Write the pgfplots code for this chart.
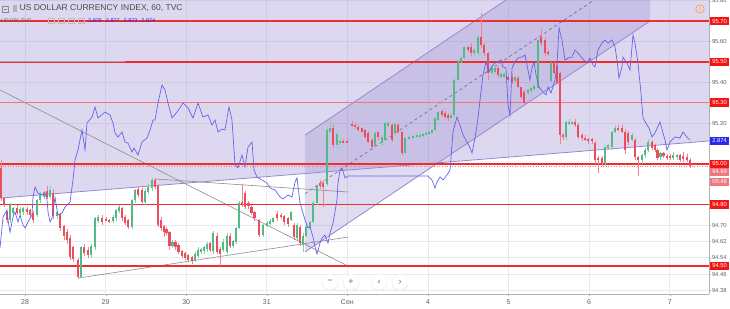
\documentclass[border=0pt]{standalone}
\usepackage{fontspec}
\setmainfont{Liberation Sans}
\usepackage{pgfplots}
\usepackage{pgfplotstable}
\pgfplotsset{compat=1.18}
\definecolor{upc}{RGB}{83,185,135}
\definecolor{dnc}{RGB}{235,77,92}
\definecolor{shade}{RGB}{150,135,205}
\definecolor{chline}{RGB}{150,135,212}
\definecolor{levred}{RGB}{240,45,45}
\definecolor{bluel}{RGB}{100,100,235}
\definecolor{gridc}{RGB}{230,234,241}
\definecolor{txt}{RGB}{95,95,95}
\definecolor{lblred}{RGB}{245,20,20}
\definecolor{lblpink}{RGB}{238,120,128}
\definecolor{lblblue}{RGB}{40,40,240}

% down candles: hour, body low, body high, wick low, wick high
\pgfplotstableread{
h lo hi wl wh
-7.15 94.832 94.979 94.82 95.02
-6.25 94.798 94.832 94.79 94.84
-5.36 94.725 94.764 94.71 94.77
-2.38 94.759 94.783 94.75 94.80
0.60 94.764 94.779 94.75 94.79
1.49 94.749 94.774 94.74 94.78
2.38 94.725 94.759 94.71 94.77
6.55 94.837 94.867 94.83 94.89
8.34 94.744 94.857 94.73 94.88
10.42 94.685 94.754 94.67 94.76
11.61 94.646 94.695 94.63 94.70
12.51 94.627 94.666 94.61 94.68
13.40 94.543 94.636 94.53 94.65
14.29 94.534 94.592 94.52 94.60
15.78 94.445 94.529 94.435 94.54
17.57 94.563 94.592 94.55 94.61
18.76 94.553 94.578 94.54 94.59
22.93 94.715 94.734 94.70 94.75
24.12 94.725 94.730 94.72 94.74
25.02 94.715 94.725 94.71 94.73
28.89 94.734 94.783 94.72 94.79
29.78 94.710 94.739 94.70 94.75
30.67 94.690 94.725 94.68 94.73
33.65 94.847 94.877 94.84 94.89
34.84 94.813 94.872 94.80 94.88
38.71 94.886 94.921 94.88 94.93
39.61 94.700 94.891 94.69 94.90
40.50 94.685 94.725 94.67 94.74
41.39 94.666 94.695 94.64 94.70
42.10 94.661 94.680 94.65 94.69
43.00 94.597 94.666 94.58 94.67
44.80 94.592 94.617 94.58 94.63
45.70 94.568 94.602 94.56 94.61
46.75 94.548 94.573 94.54 94.58
47.65 94.538 94.563 94.53 94.57
48.54 94.529 94.553 94.52 94.56
49.73 94.524 94.543 94.51 94.55
55.09 94.578 94.612 94.57 94.62
57.18 94.568 94.646 94.56 94.66
58.07 94.558 94.582 94.50 94.59
61.05 94.597 94.646 94.59 94.66
64.60 94.803 94.813 94.79 94.90
65.60 94.788 94.857 94.78 94.87
66.50 94.793 94.808 94.78 94.82
67.40 94.759 94.788 94.75 94.80
68.30 94.734 94.764 94.72 94.77
69.69 94.651 94.725 94.64 94.73
75.05 94.734 94.754 94.72 94.77
76.24 94.739 94.749 94.73 94.76
77.13 94.715 94.744 94.70 94.75
78.32 94.705 94.734 94.69 94.74
80.11 94.641 94.700 94.63 94.71
81.90 94.612 94.690 94.60 94.70
87.85 94.891 94.906 94.88 94.92
88.74 94.886 94.906 94.79 94.92
91.72 95.092 95.176 95.08 95.19
94.70 95.107 95.112 95.10 95.12
95.89 95.102 95.112 95.10 95.12
97.38 95.185 95.195 95.18 95.21
98.27 95.180 95.190 95.17 95.20
99.17 95.166 95.180 95.16 95.19
100.36 95.156 95.176 95.15 95.18
101.25 95.131 95.166 95.12 95.17
102.15 95.107 95.151 95.10 95.16
103.34 95.082 95.117 95.07 95.13
105.12 95.131 95.156 95.12 95.16
109.29 95.117 95.190 95.11 95.20
111.08 95.156 95.190 95.15 95.20
112.27 95.053 95.156 95.04 95.16
124.18 95.239 95.259 95.23 95.27
125.08 95.230 95.249 95.22 95.26
125.97 95.225 95.239 95.21 95.25
131.93 95.558 95.573 95.55 95.58
132.82 95.543 95.573 95.53 95.59
135.80 95.582 95.622 95.57 95.74
136.69 95.543 95.582 95.53 95.59
137.88 95.445 95.543 95.41 95.55
140.86 95.435 95.470 95.42 95.48
143.84 95.411 95.426 95.40 95.44
145.03 95.401 95.426 95.39 95.44
146.82 95.377 95.421 95.37 95.43
147.71 95.328 95.377 95.32 95.38
148.60 95.298 95.352 95.29 95.36
153.66 95.592 95.622 95.58 95.66
154.86 95.543 95.607 95.53 95.62
155.75 95.538 95.548 95.53 95.56
157.54 95.445 95.494 95.44 95.50
158.43 95.396 95.479 95.39 95.49
159.32 95.141 95.445 95.10 95.45
160.22 95.131 95.141 95.12 95.15
163.79 95.190 95.205 95.18 95.22
164.68 95.131 95.190 95.12 95.20
165.87 95.127 95.141 95.11 95.15
166.77 95.117 95.127 95.11 95.14
167.66 95.112 95.122 95.10 95.13
168.85 95.112 95.122 95.10 95.13
169.75 95.019 95.102 95.00 95.11
170.64 95.019 95.028 94.955 95.04
171.83 95.004 95.028 94.99 95.04
176.60 95.166 95.176 95.16 95.19
177.79 95.156 95.176 95.15 95.19
178.68 95.068 95.156 95.05 95.17
179.57 95.107 95.151 95.09 95.16
181.66 95.033 95.117 95.02 95.13
182.55 95.019 95.033 94.94 95.04
186.72 95.078 95.107 95.07 95.12
187.61 95.068 95.092 95.06 95.10
188.40 95.028 95.068 95.02 95.08
190.20 95.038 95.053 95.03 95.06
191.19 95.033 95.038 95.02 95.05
192.08 95.028 95.038 95.02 95.05
195.06 95.019 95.043 95.01 95.05
195.95 95.024 95.038 95.01 95.06
197.14 95.019 95.033 95.01 95.05
198.04 94.989 95.019 94.98 95.03
}\dntab

% up candles
\pgfplotstableread{
h lo hi wl wh
-4.47 94.725 94.798 94.71 94.81
-3.57 94.759 94.783 94.75 94.79
-1.49 94.759 94.779 94.75 94.79
-0.60 94.764 94.783 94.75 94.79
3.57 94.749 94.823 94.74 94.83
4.47 94.823 94.847 94.81 94.86
5.66 94.837 94.862 94.83 94.87
7.45 94.837 94.872 94.83 94.89
9.53 94.744 94.764 94.73 94.77
16.68 94.445 94.592 94.44 94.60
19.65 94.553 94.597 94.54 94.61
20.85 94.592 94.734 94.58 94.74
21.74 94.720 94.739 94.71 94.75
26.21 94.720 94.739 94.71 94.75
27.10 94.734 94.774 94.72 94.78
27.99 94.769 94.788 94.76 94.80
31.86 94.690 94.823 94.68 94.83
32.76 94.823 94.872 94.81 94.88
35.74 94.813 94.867 94.80 94.88
36.63 94.862 94.886 94.85 94.90
37.82 94.881 94.921 94.87 94.93
43.90 94.597 94.617 94.59 94.63
50.63 94.529 94.558 94.52 94.57
51.52 94.548 94.578 94.54 94.59
52.41 94.568 94.582 94.56 94.59
53.31 94.573 94.592 94.56 94.60
54.20 94.582 94.607 94.57 94.62
55.99 94.573 94.661 94.56 94.67
58.96 94.578 94.617 94.57 94.63
60.16 94.568 94.646 94.56 94.66
61.94 94.597 94.622 94.59 94.63
62.84 94.617 94.685 94.61 94.69
63.73 94.685 94.808 94.68 94.82
70.88 94.651 94.700 94.64 94.71
72.07 94.695 94.710 94.69 94.72
72.96 94.705 94.720 94.70 94.73
73.85 94.715 94.734 94.71 94.74
79.21 94.725 94.764 94.72 94.77
81.00 94.636 94.700 94.63 94.71
82.79 94.602 94.646 94.57 94.66
83.68 94.646 94.690 94.64 94.70
84.87 94.685 94.715 94.68 94.72
85.77 94.715 94.808 94.71 94.82
86.96 94.808 94.891 94.80 94.90
89.94 94.901 95.166 94.89 95.18
90.83 95.156 95.176 95.15 95.22
92.91 95.092 95.146 95.08 95.16
93.81 95.102 95.112 95.09 95.12
104.23 95.087 95.151 95.08 95.16
106.31 95.102 95.131 95.09 95.14
107.21 95.117 95.200 95.11 95.21
108.10 95.185 95.200 95.18 95.21
110.19 95.151 95.195 95.14 95.20
113.16 95.053 95.127 95.05 95.13
114.36 95.122 95.131 95.12 95.14
115.55 95.127 95.136 95.12 95.14
116.74 95.131 95.141 95.13 95.15
117.63 95.131 95.141 95.13 95.15
118.52 95.136 95.146 95.13 95.15
119.42 95.141 95.151 95.14 95.16
120.31 95.146 95.156 95.14 95.16
121.20 95.151 95.166 95.15 95.17
122.10 95.166 95.225 95.16 95.23
122.99 95.215 95.254 95.21 95.26
126.86 95.225 95.239 95.22 95.25
127.76 95.239 95.411 95.23 95.42
128.95 95.411 95.499 95.40 95.51
129.84 95.499 95.519 95.49 95.53
130.73 95.519 95.573 95.51 95.58
133.71 95.543 95.558 95.53 95.57
134.90 95.543 95.622 95.53 95.63
139.07 95.445 95.470 95.44 95.48
139.97 95.450 95.470 95.44 95.48
141.75 95.426 95.440 95.42 95.45
142.65 95.426 95.440 95.42 95.45
145.92 95.406 95.426 95.40 95.43
149.79 95.347 95.362 95.34 95.37
150.69 95.357 95.372 95.35 95.38
151.58 95.367 95.381 95.36 95.39
152.77 95.372 95.607 95.36 95.61
156.64 95.406 95.494 95.40 95.50
161.11 95.131 95.205 95.12 95.21
162.00 95.195 95.205 95.19 95.22
162.90 95.195 95.205 95.19 95.21
172.72 95.004 95.082 94.99 95.09
173.62 95.078 95.092 95.07 95.10
174.81 95.082 95.156 95.07 95.16
175.70 95.156 95.176 95.15 95.19
180.76 95.117 95.141 95.11 95.15
183.74 95.019 95.043 95.00 95.05
184.64 95.043 95.068 95.03 95.08
185.53 95.068 95.107 95.06 95.12
189.30 95.033 95.053 95.02 95.06
192.97 95.028 95.043 95.02 95.06
194.17 95.033 95.043 95.02 95.05
}\uptab

% US10Y yield
\pgfplotstableread{
h v
-7.45 2.8312
-6.55 2.8436
-5.36 2.8464
-5.06 2.8424
-4.47 2.8376
-3.57 2.8436
-2.98 2.8456
-2.08 2.8416
-1.49 2.8444
-0.60 2.8404
0.00 2.8392
0.89 2.8416
2.08 2.8444
2.38 2.8516
2.98 2.8556
3.87 2.8532
5.06 2.8524
5.96 2.8532
6.55 2.8504
6.85 2.8456
7.45 2.8416
8.04 2.8432
8.93 2.8516
9.53 2.8464
9.83 2.8444
11.02 2.8452
11.91 2.8476
13.40 2.8496
14.29 2.8584
14.89 2.8664
15.78 2.8704
16.97 2.8784
17.87 2.8704
18.46 2.8812
19.95 2.8836
20.85 2.8876
21.74 2.8832
23.82 2.8856
25.31 2.8844
26.21 2.8812
26.80 2.8772
27.70 2.8756
28.89 2.8776
29.78 2.8736
30.67 2.8732
31.86 2.8696
32.46 2.8712
33.65 2.8684
34.84 2.8736
36.33 2.8752
37.23 2.8784
38.12 2.8824
38.71 2.8824
39.61 2.8892
40.80 2.8964
41.69 2.8944
42.59 2.8892
43.78 2.8832
45.27 2.8856
47.05 2.8892
48.54 2.8872
50.03 2.8832
51.52 2.8892
53.01 2.8836
54.50 2.8844
55.69 2.8804
56.58 2.8824
57.48 2.8776
58.67 2.8788
59.56 2.8784
60.75 2.8876
61.64 2.8824
62.54 2.8644
63.43 2.8632
64.62 2.8684
65.52 2.8636
66.41 2.8716
67.60 2.8736
68.20 2.8624
69.09 2.8596
70.58 2.8584
72.07 2.8572
72.96 2.8552
74.45 2.8544
75.94 2.8516
76.83 2.8508
78.32 2.8524
79.51 2.8516
80.41 2.8576
81.00 2.8592
81.90 2.8492
83.39 2.8424
84.28 2.8392
84.87 2.8396
85.77 2.8356
86.36 2.8316
86.96 2.8288
87.85 2.8332
88.45 2.8352
89.34 2.8364
90.23 2.8332
90.83 2.8372
91.72 2.8412
92.91 2.8504
93.21 2.8572
93.81 2.8624
94.40 2.8632
95.30 2.8592
96.19 2.8600
120.01 2.8600
121.20 2.8584
122.10 2.8552
122.69 2.8576
123.59 2.8596
124.48 2.8584
125.67 2.8604
126.57 2.8624
127.46 2.8776
128.65 2.8836
129.54 2.8804
130.44 2.8764
131.63 2.8736
132.52 2.8712
133.12 2.8692
134.01 2.8752
134.90 2.8832
135.50 2.8904
136.39 2.9004
137.28 2.9056
138.18 2.9016
139.07 2.9040
139.97 2.9052
140.86 2.9056
141.75 2.9064
142.35 2.9036
143.24 2.9032
143.84 2.8884
144.43 2.8844
145.03 2.9032
145.92 2.9056
146.82 2.9072
148.01 2.9076
148.90 2.9084
149.79 2.9024
150.39 2.8984
150.99 2.9032
151.58 2.9056
152.18 2.9004
153.07 2.8956
154.26 2.8936
155.16 2.8924
155.75 2.8956
156.64 2.8932
157.84 2.8984
158.43 2.9044
159.03 2.9192
159.92 2.9144
160.81 2.9064
161.71 2.9072
162.90 2.9076
163.79 2.9104
164.68 2.9092
165.87 2.9072
167.36 2.9052
168.26 2.9072
169.15 2.9044
169.75 2.9036
170.64 2.9104
171.83 2.9132
172.72 2.9144
173.62 2.9132
174.81 2.9144
175.70 2.9116
176.30 2.9064
176.89 2.8992
177.79 2.9036
178.08 2.9076
179.28 2.9052
180.17 2.9024
181.06 2.9164
181.66 2.9132
182.55 2.9052
183.44 2.8932
184.04 2.8832
185.23 2.8804
185.83 2.8792
186.72 2.8756
187.61 2.8772
189.10 2.8816
190.59 2.8744
191.19 2.8704
192.08 2.8736
193.57 2.8756
195.06 2.8752
195.95 2.8776
197.14 2.8756
198.04 2.8744
}\yldtab

\begin{document}
\begin{tikzpicture}
\useasboundingbox (0,0) rectangle (730pt,308pt);
\pgfplotsset{
  frame/.style={at={(0pt,14pt)}, anchor=south west, scale only axis,
    width=709pt, height=294pt, xmin=-7.45, xmax=203.7},
  wickst/.style={forget plot, draw=none, error bars/.cd, y dir=both, y explicit,
    error mark=none, error bar style={draw=#1, line width=0.6pt}},
  bodyst/.style={forget plot, draw=none, error bars/.cd, y dir=both, y explicit,
    error mark=none, error bar style={draw=#1, line width=2.4pt, line cap=butt}},
  level/.style={draw=levred, line width=1.5pt, forget plot},
}
% ---------- main price axis ----------
\begin{axis}[frame, ymin=94.362, ymax=95.803,
  axis x line*=bottom, axis y line*=right,
  axis line style={draw=black!30, line width=0.6pt},
  xtick={0,24,48,72,96,120,144,168,192},
  xticklabels={28,29,30,31,Сен,4,5,6,7},
  ytick={94.38,94.46,94.54,94.62,94.70,95.20,95.40,95.60,95.80},
  /pgf/number format/assume math mode=true,
  yticklabel style={font=\fontsize{5.8}{6}\selectfont, text=txt, inner xsep=0.8pt,
    /pgf/number format/fixed, /pgf/number format/fixed zerofill, /pgf/number format/precision=2},
  xticklabel style={font=\fontsize{7}{8}\selectfont, text=txt},
  tick align=outside, major tick length=2pt, tick style={draw=black!30},
  grid=major, grid style={draw=gridc, line width=0.6pt},
]
% background shading above the long purple line
\addplot[fill=shade, fill opacity=0.32, draw=none, forget plot]
  coordinates {(-7.45,94.832) (203.7,95.112) (203.7,95.803) (-7.45,95.803)} -- cycle;
% rising channel
\addplot[fill=shade, fill opacity=0.3, draw=none, forget plot]
  coordinates {(83.38,94.568) (83.38,95.141) (143.24,95.803) (186.13,95.803) (186.13,95.700)} -- cycle;
\addplot[draw=chline, line width=0.8pt, forget plot] coordinates {(-7.45,94.832) (203.7,95.112)};
\addplot[draw=chline, line width=0.8pt, forget plot] coordinates {(83.38,95.141) (143.24,95.803)};
\addplot[draw=chline, line width=0.8pt, forget plot] coordinates {(83.38,94.568) (186.13,95.700)};
\addplot[draw=chline!80!black, line width=0.7pt, dashed, forget plot] coordinates {(83.38,94.854) (169.45,95.803)};
% grey trend lines
\addplot[draw=black!45, line width=0.6pt, forget plot] coordinates {(-7.45,95.362) (96.19,94.499)};
\addplot[draw=black!45, line width=0.6pt, forget plot] coordinates {(15.78,94.440) (96.19,94.641)};
\addplot[draw=black!45, line width=0.6pt, forget plot] coordinates {(38.71,94.926) (96.19,94.862)};
% horizontal levels
\addplot[level] coordinates {(-7.45,95.70) (203.7,95.70)};
\addplot[level] coordinates {(-7.45,95.50) (203.7,95.50)};
\addplot[draw=black!35, line width=1.2pt, forget plot] coordinates {(-7.45,95.503) (29.78,95.503)};
\addplot[level, draw=levred!65, line width=1.6pt] coordinates {(-7.45,95.30) (203.7,95.30)};
\addplot[level] coordinates {(-7.45,95.00) (203.7,95.00)};
\addplot[draw=lblpink, line width=0.6pt, dotted, forget plot] coordinates {(-7.45,94.99) (203.7,94.99)};
\addplot[level] coordinates {(-7.45,94.80) (203.7,94.80)};
\addplot[level] coordinates {(-7.45,94.50) (203.7,94.50)};
% candles
\addplot[wickst=upc!70] table[x=h, y expr=(\thisrow{wl}+\thisrow{wh})/2, y error expr=(\thisrow{wh}-\thisrow{wl})/2] {\uptab};
\addplot[wickst=dnc!70] table[x=h, y expr=(\thisrow{wl}+\thisrow{wh})/2, y error expr=(\thisrow{wh}-\thisrow{wl})/2] {\dntab};
\addplot[bodyst=upc] table[x=h, y expr=(\thisrow{lo}+\thisrow{hi})/2, y error expr={max(0.0025,(\thisrow{hi}-\thisrow{lo})/2)}] {\uptab};
\addplot[bodyst=dnc] table[x=h, y expr=(\thisrow{lo}+\thisrow{hi})/2, y error expr={max(0.0025,(\thisrow{hi}-\thisrow{lo})/2)}] {\dntab};
\end{axis}
% ---------- US10Y overlay ----------
\begin{axis}[frame, ymin=2.8128, ymax=2.9304, hide axis]
\addplot[draw=bluel, line width=0.7pt, forget plot] table[x=h, y=v] {\yldtab};
\end{axis}
% ---------- price labels ----------
\begin{axis}[frame, ymin=94.362, ymax=95.803, hide axis, clip=false]
\tikzset{lbl/.style={anchor=west, xshift=0.6pt, fill=#1, text=white,
  font=\fontsize{5.8}{6}\selectfont, inner sep=0pt, minimum width=19.5pt, minimum height=8.5pt}}
\node[lbl=lblred] at (axis cs:203.7,95.70) {95.70};
\node[lbl=lblred] at (axis cs:203.7,95.50) {95.50};
\node[lbl=lblred] at (axis cs:203.7,95.30) {95.30};
\node[lbl=lblblue] at (axis cs:203.7,95.112) {2.874};
\node[lbl=lblred] at (axis cs:203.7,95.00) {95.00};
\node[lbl=lblpink] at (axis cs:203.7,94.960) {94.99};
\node[lbl=lblpink] at (axis cs:203.7,94.911) {05:48};
\node[lbl=lblred] at (axis cs:203.7,94.80) {94.80};
\node[lbl=lblred] at (axis cs:203.7,94.50) {94.50};
\end{axis}
% ---------- header ----------
\draw[black!45, line width=0.5pt] (2.5pt,296pt) rectangle (8.5pt,302pt);
\draw[black!45, line width=0.5pt] (4pt,299pt) -- (7pt,299pt);
\fill[black!30] (13pt,296pt) rectangle (17pt,303pt);
\node[anchor=west, inner sep=0pt, text=black!70, font=\fontsize{8.5}{9}\selectfont] at (19.5pt,299.5pt) {US DOLLAR CURRENCY INDEX, 60, TVC};
\node[anchor=west, inner sep=0pt, text=black!60, font=\fontsize{5.5}{6}\selectfont] at (1pt,287pt) {US10Y, TVC};
\foreach \xx in {48,58,68,78}{\draw[black!25, line width=0.4pt] (\xx pt,284.5pt) rectangle ++(6pt,5.5pt);}
\node[anchor=west, inner sep=0pt, text=lblblue, font=\fontsize{5.5}{6}\selectfont] at (88pt,287pt) {2.875\hspace{4pt}2.877\hspace{4pt}2.873\hspace{4pt}2.874};
\draw[orange!80, line width=0.6pt] (700pt,299pt) circle (4.2pt);
\node[text=orange!80, font=\fontsize{6}{6}\selectfont\bfseries, inner sep=0pt] at (700pt,299pt) {!};
% ---------- navigation buttons ----------
\foreach \xx/\sym in {330/{−},351/{+},379/{‹},400/{›}}{
  \fill[black!8] (\xx pt,25.4pt) circle (8.3pt);
  \fill[white] (\xx pt,26pt) circle (7.8pt);
  \node[text=black!60, font=\fontsize{9}{9}\selectfont, inner sep=0pt] at (\xx pt,26pt) {\sym};
}
\end{tikzpicture}
\end{document}
